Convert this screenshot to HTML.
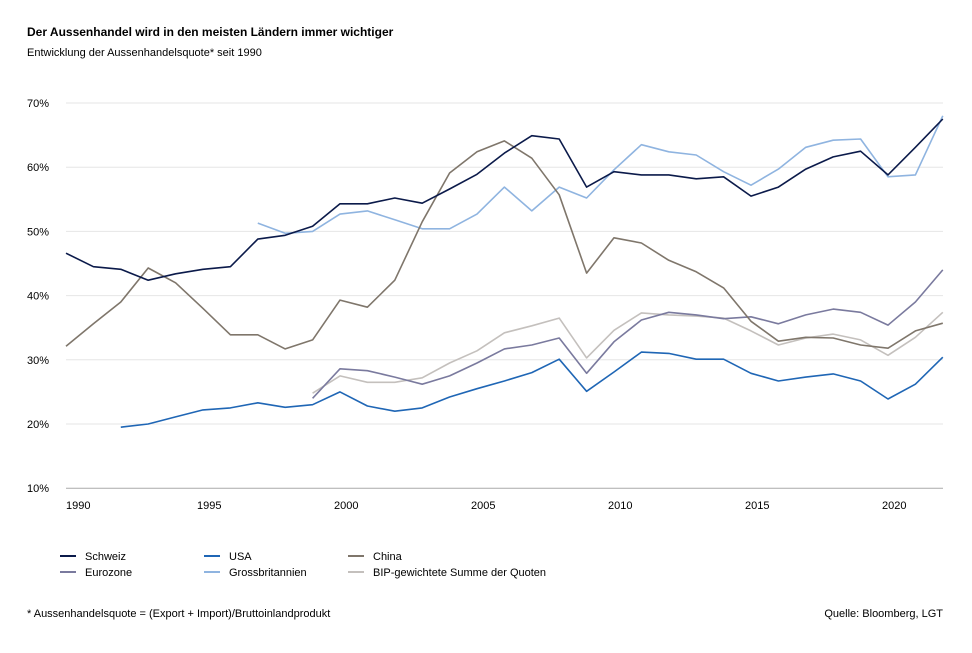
<!DOCTYPE html>
<html><head><meta charset="utf-8"><style>
body{margin:0;background:#fff;width:972px;height:648px;overflow:hidden;font-family:"Liberation Sans",sans-serif;color:#111}
svg text{font-family:"Liberation Sans",sans-serif}
</style></head><body>
<svg id="s" width="972" height="648" xmlns="http://www.w3.org/2000/svg">
<text x="27" y="36" font-size="12" font-weight="bold">Der Aussenhandel wird in den meisten Ländern immer wichtiger</text>
<text x="27" y="56" font-size="11">Entwicklung der Aussenhandelsquote* seit 1990</text>
<g id="grid"></g>
<g id="lines" fill="none" stroke-width="1.6" stroke-linejoin="round"></g>
<g font-size="11">
<line x1="60" y1="556" x2="76" y2="556" stroke="#0b1a4a" stroke-width="2"/><text x="85" y="560">Schweiz</text>
<line x1="60" y1="572" x2="76" y2="572" stroke="#7a7a9e" stroke-width="2"/><text x="85" y="576">Eurozone</text>
<line x1="204" y1="556" x2="220" y2="556" stroke="#1f66b5" stroke-width="2"/><text x="229" y="560">USA</text>
<line x1="204" y1="572" x2="220" y2="572" stroke="#8fb4e0" stroke-width="2"/><text x="229" y="576">Grossbritannien</text>
<line x1="348" y1="556" x2="364" y2="556" stroke="#7f766b" stroke-width="2"/><text x="373" y="560">China</text>
<line x1="348" y1="572" x2="364" y2="572" stroke="#c4c0bd" stroke-width="2"/><text x="373" y="576">BIP-gewichtete Summe der Quoten</text>
<text x="27" y="617">*  Aussenhandelsquote = (Export + Import)/Bruttoinlandprodukt</text>
<text x="943" y="617" text-anchor="end">Quelle: Bloomberg, LGT</text>
</g>
</svg>
<script>
const X=y=>66+(y-1990)*27.4, Y=v=>103+(70-v)*6.42;
let g=document.getElementById('grid'),h='';
for(let v=10;v<=70;v+=10){h+=`<line x1="66" x2="943" y1="${Y(v)}" y2="${Y(v)}" stroke="${v==10?'#aaa':'#e6e6e6'}" stroke-width="1"/><text x="27" y="${Y(v)+4}" font-size="11">${v}%</text>`;}
for(let y=1990;y<=2020;y+=5)h+=`<text x="${y==1990?X(y):X(y)-6}" y="509" font-size="11">${y}</text>`;
g.innerHTML=h;
const S=[
['#c4c0bd',1999,[24.8,27.5,26.5,26.5,27.2,29.5,31.4,34.2,35.3,36.5,30.3,34.6,37.3,37,36.8,36.5,34.5,32.3,33.4,34,33.1,30.7,33.5,37.4]],
['#8fb4e0',1997,[51.3,49.7,50,52.7,53.2,51.8,50.4,50.4,52.7,56.9,53.2,56.9,55.2,59.6,63.5,62.4,61.9,59.3,57.2,59.7,63.1,64.2,64.4,58.5,58.8,68]],
['#7a7a9e',1999,[24,28.6,28.3,27.3,26.2,27.5,29.5,31.7,32.3,33.4,27.9,32.8,36.2,37.4,37,36.4,36.7,35.6,37,37.9,37.4,35.4,39,44]],
['#7f766b',1990,[32.1,35.6,39,44.3,42,38,33.9,33.9,31.7,33.1,39.3,38.2,42.4,51.5,59.1,62.4,64.1,61.4,55.7,43.5,49,48.2,45.5,43.7,41.2,36,32.9,33.5,33.4,32.3,31.8,34.5,35.7]],
['#1f66b5',1992,[19.5,20,21.1,22.2,22.5,23.3,22.6,23,25,22.8,22,22.5,24.2,25.5,26.7,28,30.1,25.1,28.1,31.2,31,30.1,30.1,27.9,26.7,27.3,27.8,26.7,23.9,26.2,30.4]],
['#0b1a4a',1990,[46.6,44.5,44.1,42.4,43.4,44.1,44.5,48.8,49.4,50.8,54.3,54.3,55.2,54.4,56.6,58.9,62.2,64.9,64.4,56.9,59.3,58.8,58.8,58.2,58.5,55.5,56.9,59.7,61.6,62.5,58.8,63.1,67.5]]];
let l='';
for(const [c,s,d] of S){l+=`<polyline stroke="${c}" points="${d.map((v,i)=>X(s+i).toFixed(1)+','+Y(v).toFixed(1)).join(' ')}"/>`;}
document.getElementById('lines').innerHTML=l;
</script>
</body></html>
